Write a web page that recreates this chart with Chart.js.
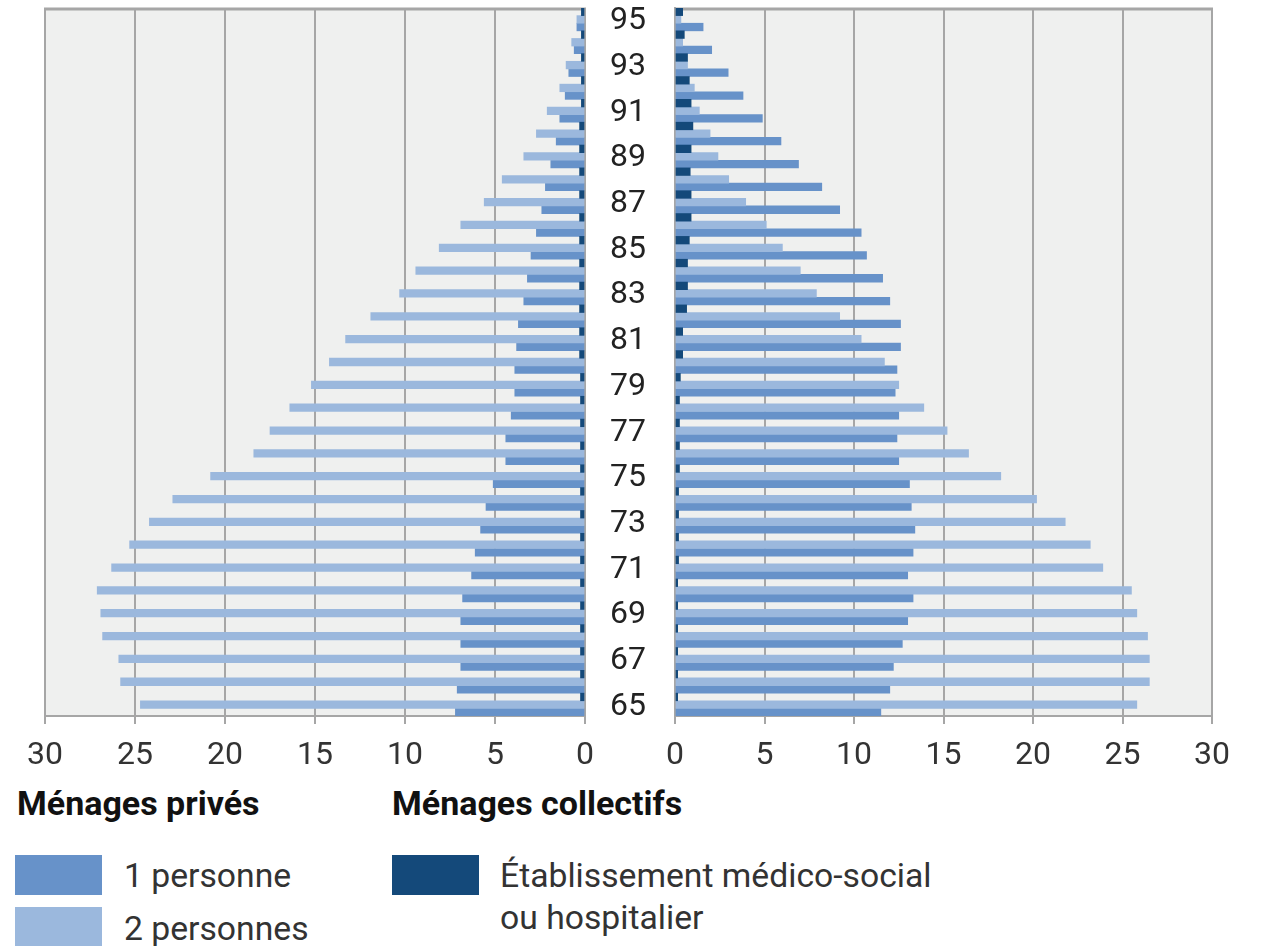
<!DOCTYPE html>
<html lang="fr">
<head>
<meta charset="utf-8">
<script src="https://cdn.jsdelivr.net/npm/chart.js@4.4.1/dist/chart.umd.min.js"></script>
<style>
body{margin:0;background:#fff;width:1263px;height:946px;overflow:hidden;position:relative;font-family:Roboto,sans-serif;color:#222}
#cl{position:absolute;left:0;top:0}
#cr{position:absolute;left:600px;top:0}
.h{position:absolute;top:783px;font-size:34px;font-weight:700;line-height:40px;color:#111;white-space:nowrap}
.sw{position:absolute;width:87px;height:40px}
.lt{position:absolute;font-size:33.7px;line-height:40px;color:#333;white-space:nowrap}
</style>
</head>
<body>
<canvas id="cl" width="600" height="780"></canvas>
<canvas id="cr" width="663" height="780"></canvas>

<div class="h" style="left:17px">Ménages privés</div>
<div class="h" style="left:392px">Ménages collectifs</div>
<div class="sw" style="left:15px;top:855px;background:#6792c9"></div>
<div class="lt" style="left:124px;top:856px">1 personne</div>
<div class="sw" style="left:15px;top:907px;background:#9bb8dd"></div>
<div class="lt" style="left:124px;top:909px">2 personnes</div>
<div class="sw" style="left:392px;top:855px;background:#14497a"></div>
<div class="lt" style="left:500px;top:856px">Établissement médico-social</div>
<div class="lt" style="left:500px;top:898px">ou hospitalier</div>

<script>
/* ── données : âges 65 → 95 ── */
const ages=['65','66','67','68','69','70','71','72','73','74','75','76','77','78','79','80',
            '81','82','83','84','85','86','87','88','89','90','91','92','93','94','95'];

// côté gauche
const left1p=[7.2,7.1,6.9,6.9,6.9,6.8,6.3,6.1,5.8,5.5,5.1,4.4,4.4,4.1,3.9,3.9,
              3.8,3.7,3.4,3.2,3.0,2.7,2.4,2.2,1.9,1.6,1.4,1.1,0.9,0.6,0.45];
const left2p=[24.7,25.8,25.9,26.8,26.9,27.1,26.3,25.3,24.2,22.9,20.8,18.4,17.5,16.4,15.2,14.2,
              13.3,11.9,10.3,9.4,8.1,6.9,5.6,4.6,3.4,2.7,2.1,1.4,1.05,0.74,0.45];
const leftEms=[0.25,0.25,0.25,0.25,0.25,0.25,0.25,0.25,0.25,0.25,0.25,0.25,0.25,0.25,0.25,0.3,
               0.3,0.3,0.3,0.3,0.3,0.3,0.3,0.3,0.3,0.3,0.2,0.2,0.2,0.2,0.2];

// côté droit
const right1p=[11.5,12.0,12.2,12.7,13.0,13.3,13.0,13.3,13.4,13.2,13.1,12.5,12.4,12.5,12.3,12.4,
               12.6,12.6,12.0,11.6,10.7,10.4,9.2,8.2,6.9,5.92,4.88,3.8,2.97,2.05,1.57];
const right2p=[25.8,26.5,26.5,26.4,25.8,25.5,23.9,23.2,21.8,20.2,18.2,16.4,15.2,13.9,12.5,11.7,
               10.4,9.2,7.9,7.0,6.0,5.1,3.95,3.0,2.4,1.96,1.36,1.08,0.7,0.43,0.33];
const rightEms=[0.15,0.15,0.15,0.15,0.15,0.15,0.2,0.2,0.2,0.2,0.25,0.25,0.25,0.25,0.3,0.43,
                0.43,0.65,0.7,0.7,0.8,0.9,0.9,0.85,0.9,1.0,0.9,0.8,0.7,0.52,0.43];

const xTicks=[0,5,10,15,20,25,30];

const C1='#6792c9', C2='#9bb8dd', CE='#14497a';
const GRID='#a6a6a6';

// fond gris de la zone de tracé + filet du haut
const plotBg={
    id:'plotBg',
    beforeDraw(c){
        const a=c.chartArea, ctx=c.ctx;
        ctx.save();
        ctx.fillStyle='#eff0ef';
        ctx.fillRect(a.left,a.top,a.right-a.left,a.bottom-a.top);
        ctx.restore();
    },
    beforeDatasetsDraw(c){
        const a=c.chartArea, ctx=c.ctx;
        ctx.save();
        ctx.strokeStyle=GRID; ctx.lineWidth=3;
        ctx.beginPath(); ctx.moveTo(a.left-1,a.top+1); ctx.lineTo(a.right+1,a.top+1); ctx.stroke();
        ctx.restore();
    }
};

function sets(ems,two,one) {
    const base={barPercentage:1,categoryPercentage:1,borderWidth:0};
    return [
        {...base,label:'Établissement médico-social ou hospitalier',data:ems,backgroundColor:CE},
        {...base,label:'2 personnes',data:two,backgroundColor:C2},
        {...base,label:'1 personne',data:one,backgroundColor:C1}
    ];
}

function xScale(rev) {
    return {
        reverse:rev, min:0, max:30,
        afterBuildTicks:s=>{s.ticks=xTicks.map(v=>({value:v}));},
        ticks:{color:'#333',font:{family:'Roboto',size:32},padding:13,maxRotation:0},
        grid:{color:GRID,lineWidth:2,tickLength:8,drawTicks:true},
        border:{display:true,color:GRID,width:2},
        afterFit:s=>{s.height=64;}
    };
}

const common={
    indexAxis:'y',
    responsive:false,
    animation:false,
    plugins:{legend:{display:false},tooltip:{enabled:false}}
};

new Chart(document.getElementById('cl').getContext('2d'),{
    type:'bar',
    data:{labels:ages,datasets:sets(leftEms,left2p,left1p)},
    options:{...common,
        layout:{padding:{top:8,left:45,right:15,bottom:0}},
        scales:{
            x:xScale(true),
            y:{reverse:true,display:false,offset:true}
        }
    },
    plugins:[plotBg]
});

new Chart(document.getElementById('cr').getContext('2d'),{
    type:'bar',
    data:{labels:ages,datasets:sets(rightEms,right2p,right1p)},
    options:{...common,
        layout:{padding:{top:8,left:0,right:51,bottom:0}},
        scales:{
            x:xScale(false),
            y:{
                reverse:true, position:'left', offset:true,
                grid:{drawOnChartArea:false,drawTicks:false},
                border:{display:true,color:GRID,width:2},
                ticks:{
                    autoSkip:false, padding:29, labelOffset:2, color:'#222',
                    font:{family:'Roboto',size:32},
                    callback(v){const l=this.getLabelForValue(v); return (+l)%2?l:'';}
                },
                afterFit:s=>{s.width=75;s.paddingTop=0;s.paddingBottom=0;}
            }
        }
    },
    plugins:[plotBg]
});
</script>
</body>
</html>
